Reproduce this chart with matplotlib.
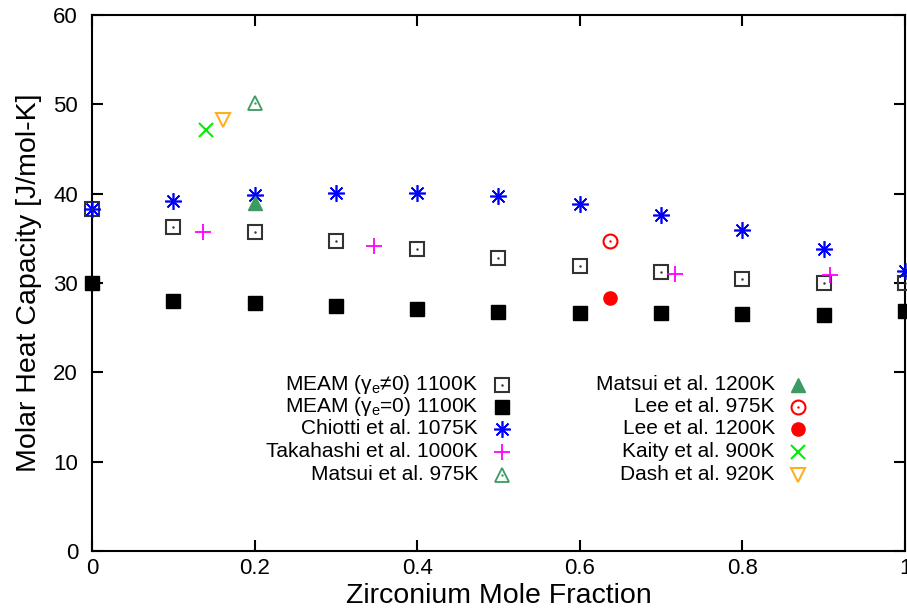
import matplotlib
matplotlib.use('Agg')
import matplotlib.pyplot as plt
from matplotlib.lines import Line2D

plt.rcParams['font.family'] = ['Liberation Sans', 'DejaVu Sans']
plt.rcParams['mathtext.fontset'] = 'custom'
plt.rcParams['mathtext.rm'] = 'Liberation Sans'

# MEAM simulations
x_meam = [0.0, 0.1, 0.2, 0.3, 0.4, 0.5, 0.6, 0.7, 0.8, 0.9, 1.0]
cp_meam_ge = [38.3, 36.3, 35.7, 34.7, 33.8, 32.8, 31.9, 31.2, 30.5, 30.0, 30.0]
cp_meam_g0 = [30.0, 28.0, 27.8, 27.4, 27.1, 26.8, 26.7, 26.6, 26.5, 26.4, 26.9]

# experiments
x_chiotti = [0.0, 0.1, 0.2, 0.3, 0.4, 0.5, 0.6, 0.7, 0.8, 0.9, 1.0]
cp_chiotti = [38.3, 39.2, 39.8, 40.1, 40.1, 39.7, 38.8, 37.6, 35.9, 33.8, 31.4]
x_takahashi = [0.137, 0.347, 0.717, 0.908]
cp_takahashi = [35.7, 34.2, 31.0, 30.9]
x_matsui975 = [0.2]
cp_matsui975 = [50.2]
x_matsui1200 = [0.2]
cp_matsui1200 = [39.0]
x_lee975 = [0.637]
cp_lee975 = [34.7]
x_lee1200 = [0.637]
cp_lee1200 = [28.3]
x_kaity = [0.14]
cp_kaity = [47.1]
x_dash = [0.161]
cp_dash = [48.3]

series = [
    ('MEAM (γ$_\\mathregular{e}$≠0) 1100K', x_meam, cp_meam_ge,
     dict(marker='s', ms=10, mfc='none', mec='#333333', mew=1.5), True),
    ('MEAM (γ$_\\mathregular{e}$=0) 1100K', x_meam, cp_meam_g0,
     dict(marker='s', ms=9.5, mfc='black', mec='black', mew=1), False),
    ('Chiotti et al. 1075K', x_chiotti, cp_chiotti,
     dict(marker=(8, 2, 0), ms=12, mec='#0000ff', mew=1.2), False),
    ('Takahashi et al. 1000K', x_takahashi, cp_takahashi,
     dict(marker='+', ms=12, mec='#ff00ff', mew=1.3), False),
    ('Matsui et al. 975K', x_matsui975, cp_matsui975,
     dict(marker='^', ms=10, mfc='none', mec='#3c9a64', mew=1.3), True),
    ('Matsui et al. 1200K', x_matsui1200, cp_matsui1200,
     dict(marker='^', ms=10, mfc='#3c9a64', mec='#3c9a64', mew=1), False),
    ('Lee et al. 975K', x_lee975, cp_lee975,
     dict(marker='o', ms=10, mfc='none', mec='#ff0000', mew=1.5), True),
    ('Lee et al. 1200K', x_lee1200, cp_lee1200,
     dict(marker='o', ms=9.5, mfc='#ff0000', mec='#ff0000', mew=1), False),
    ('Kaity et al. 900K', x_kaity, cp_kaity,
     dict(marker='x', ms=10, mec='#00ee00', mew=1.5), False),
    ('Dash et al. 920K', x_dash, cp_dash,
     dict(marker='v', ms=10, mfc='none', mec='#ffb020', mew=1.5), False),
]

fig = plt.figure(figsize=(9.07, 6.15), dpi=100)
ax = fig.add_axes([0.1014, 0.104, 0.8964, 0.8716])

for label, xs, ys, st, dot in series:
    ax.plot(xs, ys, ls='none', clip_on=False, zorder=3, **st)
    if dot:
        ax.plot(xs, ys, ls='none', marker='.', ms=1.5, color=st['mec'],
                clip_on=False, zorder=4)

# legend drawn by hand: text right-aligned, key to the right (gnuplot style)
row_y = [0.310, 0.269, 0.228, 0.185, 0.142]
cols = [(0.475, 0.504), (0.840, 0.868)]
for i, (label, xs, ys, st, dot) in enumerate(series):
    tx, mx = cols[i // 5]
    yy = row_y[i % 5]
    ax.text(tx, yy, label, transform=ax.transAxes, ha='right', va='center',
            fontsize=15)
    ax.add_line(Line2D([mx], [yy], transform=ax.transAxes, ls='none', **st))
    if dot:
        ax.add_line(Line2D([mx], [yy], transform=ax.transAxes, ls='none',
                           marker='.', ms=1.5, color=st['mec']))

ax.set_xlim(0, 1)
ax.set_ylim(0, 60)
ax.set_xticks([0, 0.2, 0.4, 0.6, 0.8, 1])
ax.set_xticklabels(['0', '0.2', '0.4', '0.6', '0.8', '1'])
ax.set_yticks(range(0, 61, 10))
ax.tick_params(direction='in', length=8, width=1.5, labelsize=16,
               top=True, right=True)
ax.tick_params(axis='x', pad=5)
ax.tick_params(axis='y', pad=10)
for sp in ax.spines.values():
    sp.set_linewidth(1.5)

ax.set_xlabel('Zirconium Mole Fraction', fontsize=20.5)
ax.set_ylabel('Molar Heat Capacity [J/mol-K]', fontsize=20.5)
ax.xaxis.set_label_coords(0.5, -0.06)
ax.yaxis.set_label_coords(-0.062, 0.5)

fig.savefig('out.png', dpi=100)
